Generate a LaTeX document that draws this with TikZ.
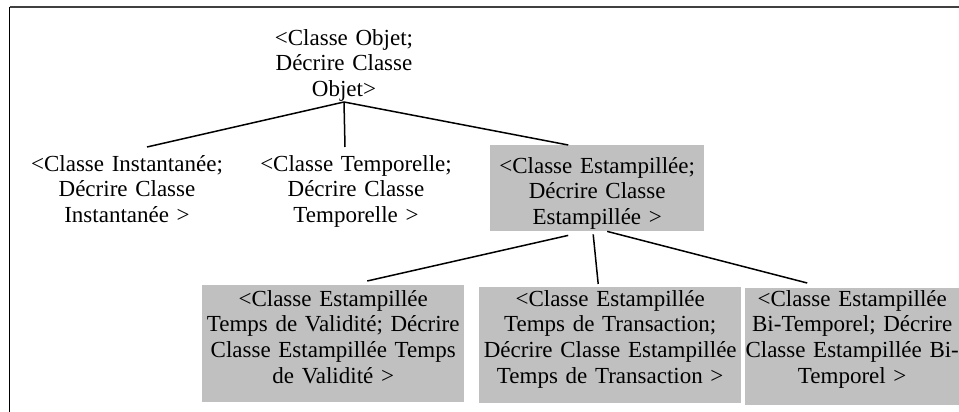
\documentclass[tikz,border=0pt]{standalone}
\usepackage{fontspec}
\setmainfont{Liberation Serif}
\usepackage{tikz}
\definecolor{stampgrey}{HTML}{C0C0C0}
\definecolor{framegrey}{HTML}{404040}

\begin{document}
\begin{tikzpicture}[x=1pt,y=1pt,
    classtext/.style={inner sep=0pt, align=center, font=\fontsize{23pt}{25.8pt}\selectfont},
    plainclass/.style={classtext, text width=210pt, text height=24pt, text depth=56.6pt, anchor=north},
    stampclass/.style={classtext, fill=stampgrey, anchor=north west},
    link/.style={line width=1.5pt}]
                \useasboundingbox (0,0) rectangle (959,412);
                % cadre
                \draw[framegrey, line width=1.6pt] (9.5,405) -- (959,405);
                \draw[line width=1.6pt] (9.5,405) -- (9.5,0);

                \node[plainclass] (objet) at (344,391) {<Classe Objet;\\Décrire Classe\\Objet>};
                \node[plainclass] (inst) at (127,265) {<Classe Instantanée;\\Décrire Classe\\Instantanée >};
                \node[plainclass] (temp) at (356,265) {<Classe Temporelle;\\Décrire Classe\\Temporelle >};
                \node[stampclass, text width=214pt, text height=28pt, text depth=58pt] (estamp) at (490,267)
                    {<Classe Estampillée;\\Décrire Classe\\Estampillée >};

                \node[stampclass, text width=262pt, text height=21pt, text depth=96pt] (valid) at (202,127)
                    {<Classe Estampillée\\Temps de Validité; Décrire\\Classe Estampillée Temps\\de Validité >};
                \node[stampclass, text width=262pt, text height=19pt, text depth=97pt] (trans) at (479,125)
                    {<Classe Estampillée\\Temps de Transaction;\\Décrire Classe Estampillée\\Temps de Transaction >};
                \node[stampclass, text width=214pt, text height=18pt, text depth=99pt] (bitemp) at (745,124)
                    {<Classe Estampillée\\Bi-Temporel; Décrire\\\mbox{Classe Estampillée Bi-}\\Temporel >};

                \draw[link] (objet.south) -- ([xshift=20pt]inst.north);
                \draw[link] (objet.south) -- ([xshift=-11pt]temp.north);
                \draw[link] (objet.south) -- ([xshift=-29pt]estamp.north);
                \draw[link] ([xshift=-29pt,yshift=-4pt]estamp.south) -- ([xshift=34pt,yshift=4pt]valid.north);
                \draw[link] ([xshift=-4pt,yshift=-3pt]estamp.south) -- ([xshift=-12pt,yshift=3pt]trans.north);
                \draw[link] ([xshift=10pt]estamp.south) -- ([xshift=-45pt,yshift=5pt]bitemp.north);
            \end{tikzpicture}
\end{document}
